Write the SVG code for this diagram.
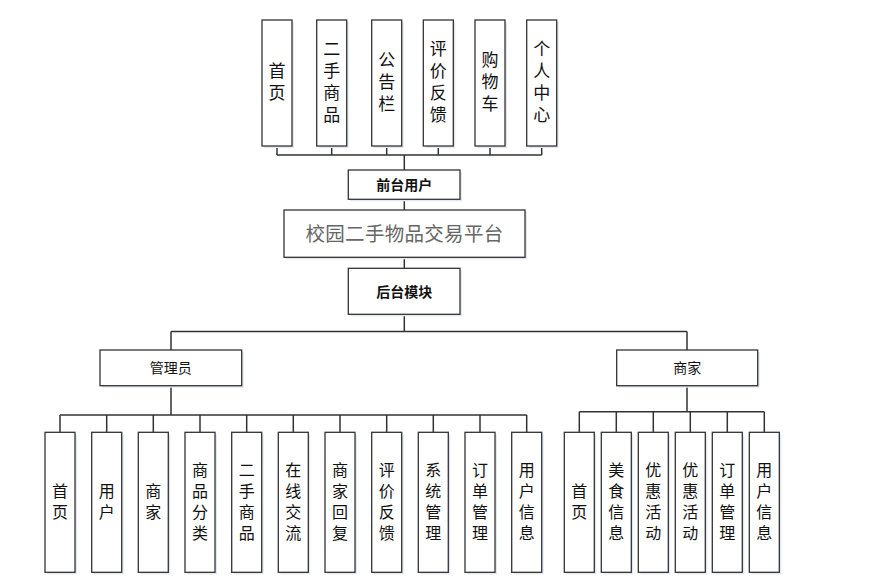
<svg xmlns="http://www.w3.org/2000/svg" width="883" height="585" viewBox="0 0 883 585">
<style>
.b{fill:#fff;stroke:#333;stroke-width:1.3}
.s{fill:#e3e8f0;stroke:none}
.t{font-family:"Noto Sans CJK SC","Noto Sans",sans-serif;fill:#111;text-anchor:middle}
.v{font-size:17px}
.w{font-size:16px}
.h{font-size:14px}
.m{font-size:19.5px;fill:#666;letter-spacing:0.3px}
.c{fill:none;stroke:#333;stroke-width:1.5}
</style>
<rect width="883" height="585" fill="#fff"/>
<g id="connectors">
<path class="c" d="M277,146V155M331.7,146V155M386.7,146V155M438.3,146V155M490,146V155M541.7,146V155M277,155H541.7M404.3,155V170M404.3,199.3V210M404.3,257.3V268.3M404.3,314.3V331.5M171,331.5H687M171,331.5V350M687,331.5V350"/>
<path class="c" d="M171,385.7V415M60,415H526.7M60,415V432.3M106.7,415V432.3M153.3,415V432.3M200,415V432.3M246.7,415V432.3M293.3,415V432.3M340,415V432.3M386.7,415V432.3M433.3,415V432.3M480,415V432.3M526.7,415V432.3"/>
<path class="c" d="M687,385.7V411.7M579.3,411.7H764.3M579.3,411.7V432.3M616.3,411.7V432.3M653.3,411.7V432.3M690.3,411.7V432.3M727.3,411.7V432.3M764.3,411.7V432.3"/>
</g>
<g id="top-nodes">
<g id="n-shouye"><rect class="s" x="264" y="22" width="30" height="126"/><rect class="b" x="262" y="20" width="30" height="126"/><text class="t v" x="277" y="77">首</text><text class="t v" x="277" y="99">页</text></g>
<g id="n-ershou"><rect class="s" x="318.7" y="22" width="30" height="126"/><rect class="b" x="316.7" y="20" width="30" height="126"/><text class="t v" x="331.7" y="55">二</text><text class="t v" x="331.7" y="77">手</text><text class="t v" x="331.7" y="99">商</text><text class="t v" x="331.7" y="121">品</text></g>
<g id="n-gonggao"><rect class="s" x="373.7" y="22" width="30" height="126"/><rect class="b" x="371.7" y="20" width="30" height="126"/><text class="t v" x="386.7" y="66">公</text><text class="t v" x="386.7" y="88">告</text><text class="t v" x="386.7" y="110">栏</text></g>
<g id="n-pingjia"><rect class="s" x="425.3" y="22" width="30" height="126"/><rect class="b" x="423.3" y="20" width="30" height="126"/><text class="t v" x="438.3" y="55">评</text><text class="t v" x="438.3" y="77">价</text><text class="t v" x="438.3" y="99">反</text><text class="t v" x="438.3" y="121">馈</text></g>
<g id="n-gouwu"><rect class="s" x="477" y="22" width="30" height="126"/><rect class="b" x="475" y="20" width="30" height="126"/><text class="t v" x="490" y="66">购</text><text class="t v" x="490" y="88">物</text><text class="t v" x="490" y="110">车</text></g>
<g id="n-geren"><rect class="s" x="528.7" y="22" width="30" height="126"/><rect class="b" x="526.7" y="20" width="30" height="126"/><text class="t v" x="541.7" y="55">个</text><text class="t v" x="541.7" y="77">人</text><text class="t v" x="541.7" y="99">中</text><text class="t v" x="541.7" y="121">心</text></g>
</g>
<g id="n-qiantai"><rect class="s" x="350.3" y="172" width="111.7" height="29.3"/><rect class="b" x="348.3" y="170" width="111.7" height="29.3"/><text class="t h" x="404.2" y="190" font-weight="bold">前台用户</text></g>
<g id="n-platform"><rect class="s" x="286" y="212" width="241" height="47.3"/><rect class="b" x="284" y="210" width="241" height="47.3"/><text class="t m" x="404.5" y="240.5">校园二手物品交易平台</text></g>
<g id="n-houtai"><rect class="s" x="350.3" y="270.3" width="111.7" height="46"/><rect class="b" x="348.3" y="268.3" width="111.7" height="46"/><text class="t h" x="404.2" y="296.5" font-weight="bold">后台模块</text></g>
<g id="n-admin"><rect class="s" x="102" y="352" width="141.7" height="35.7"/><rect class="b" x="100" y="350" width="141.7" height="35.7"/><text class="t h" x="170.8" y="373">管理员</text></g>
<g id="n-shangjia"><rect class="s" x="618.7" y="352" width="141" height="35.7"/><rect class="b" x="616.7" y="350" width="141" height="35.7"/><text class="t h" x="687.2" y="373">商家</text></g>
<g id="admin-children">
<g id="a1"><rect class="s" x="47" y="434.3" width="30" height="140"/><rect class="b" x="45" y="432.3" width="30" height="140"/><text class="t w" x="60" y="497">首</text><text class="t w" x="60" y="518">页</text></g>
<g id="a2"><rect class="s" x="93.7" y="434.3" width="30" height="140"/><rect class="b" x="91.7" y="432.3" width="30" height="140"/><text class="t w" x="106.7" y="497">用</text><text class="t w" x="106.7" y="518">户</text></g>
<g id="a3"><rect class="s" x="140.3" y="434.3" width="30" height="140"/><rect class="b" x="138.3" y="432.3" width="30" height="140"/><text class="t w" x="153.3" y="497">商</text><text class="t w" x="153.3" y="518">家</text></g>
<g id="a4"><rect class="s" x="187" y="434.3" width="30" height="140"/><rect class="b" x="185" y="432.3" width="30" height="140"/><text class="t w" x="200" y="476">商</text><text class="t w" x="200" y="497">品</text><text class="t w" x="200" y="518">分</text><text class="t w" x="200" y="539">类</text></g>
<g id="a5"><rect class="s" x="233.7" y="434.3" width="30" height="140"/><rect class="b" x="231.7" y="432.3" width="30" height="140"/><text class="t w" x="246.7" y="476">二</text><text class="t w" x="246.7" y="497">手</text><text class="t w" x="246.7" y="518">商</text><text class="t w" x="246.7" y="539">品</text></g>
<g id="a6"><rect class="s" x="280.3" y="434.3" width="30" height="140"/><rect class="b" x="278.3" y="432.3" width="30" height="140"/><text class="t w" x="293.3" y="476">在</text><text class="t w" x="293.3" y="497">线</text><text class="t w" x="293.3" y="518">交</text><text class="t w" x="293.3" y="539">流</text></g>
<g id="a7"><rect class="s" x="327" y="434.3" width="30" height="140"/><rect class="b" x="325" y="432.3" width="30" height="140"/><text class="t w" x="340" y="476">商</text><text class="t w" x="340" y="497">家</text><text class="t w" x="340" y="518">回</text><text class="t w" x="340" y="539">复</text></g>
<g id="a8"><rect class="s" x="373.7" y="434.3" width="30" height="140"/><rect class="b" x="371.7" y="432.3" width="30" height="140"/><text class="t w" x="386.7" y="476">评</text><text class="t w" x="386.7" y="497">价</text><text class="t w" x="386.7" y="518">反</text><text class="t w" x="386.7" y="539">馈</text></g>
<g id="a9"><rect class="s" x="420.3" y="434.3" width="30" height="140"/><rect class="b" x="418.3" y="432.3" width="30" height="140"/><text class="t w" x="433.3" y="476">系</text><text class="t w" x="433.3" y="497">统</text><text class="t w" x="433.3" y="518">管</text><text class="t w" x="433.3" y="539">理</text></g>
<g id="a10"><rect class="s" x="467" y="434.3" width="30" height="140"/><rect class="b" x="465" y="432.3" width="30" height="140"/><text class="t w" x="480" y="476">订</text><text class="t w" x="480" y="497">单</text><text class="t w" x="480" y="518">管</text><text class="t w" x="480" y="539">理</text></g>
<g id="a11"><rect class="s" x="513.7" y="434.3" width="30" height="140"/><rect class="b" x="511.7" y="432.3" width="30" height="140"/><text class="t w" x="526.7" y="476">用</text><text class="t w" x="526.7" y="497">户</text><text class="t w" x="526.7" y="518">信</text><text class="t w" x="526.7" y="539">息</text></g>
</g>
<g id="merchant-children">
<g id="m1"><rect class="s" x="566.3" y="434.3" width="30" height="140"/><rect class="b" x="564.3" y="432.3" width="30" height="140"/><text class="t w" x="579.3" y="497">首</text><text class="t w" x="579.3" y="518">页</text></g>
<g id="m2"><rect class="s" x="603.3" y="434.3" width="30" height="140"/><rect class="b" x="601.3" y="432.3" width="30" height="140"/><text class="t w" x="616.3" y="476">美</text><text class="t w" x="616.3" y="497">食</text><text class="t w" x="616.3" y="518">信</text><text class="t w" x="616.3" y="539">息</text></g>
<g id="m3"><rect class="s" x="640.3" y="434.3" width="30" height="140"/><rect class="b" x="638.3" y="432.3" width="30" height="140"/><text class="t w" x="653.3" y="476">优</text><text class="t w" x="653.3" y="497">惠</text><text class="t w" x="653.3" y="518">活</text><text class="t w" x="653.3" y="539">动</text></g>
<g id="m4"><rect class="s" x="677.3" y="434.3" width="30" height="140"/><rect class="b" x="675.3" y="432.3" width="30" height="140"/><text class="t w" x="690.3" y="476">优</text><text class="t w" x="690.3" y="497">惠</text><text class="t w" x="690.3" y="518">活</text><text class="t w" x="690.3" y="539">动</text></g>
<g id="m5"><rect class="s" x="714.3" y="434.3" width="30" height="140"/><rect class="b" x="712.3" y="432.3" width="30" height="140"/><text class="t w" x="727.3" y="476">订</text><text class="t w" x="727.3" y="497">单</text><text class="t w" x="727.3" y="518">管</text><text class="t w" x="727.3" y="539">理</text></g>
<g id="m6"><rect class="s" x="751.3" y="434.3" width="30" height="140"/><rect class="b" x="749.3" y="432.3" width="30" height="140"/><text class="t w" x="764.3" y="476">用</text><text class="t w" x="764.3" y="497">户</text><text class="t w" x="764.3" y="518">信</text><text class="t w" x="764.3" y="539">息</text></g>
</g>
</svg>
